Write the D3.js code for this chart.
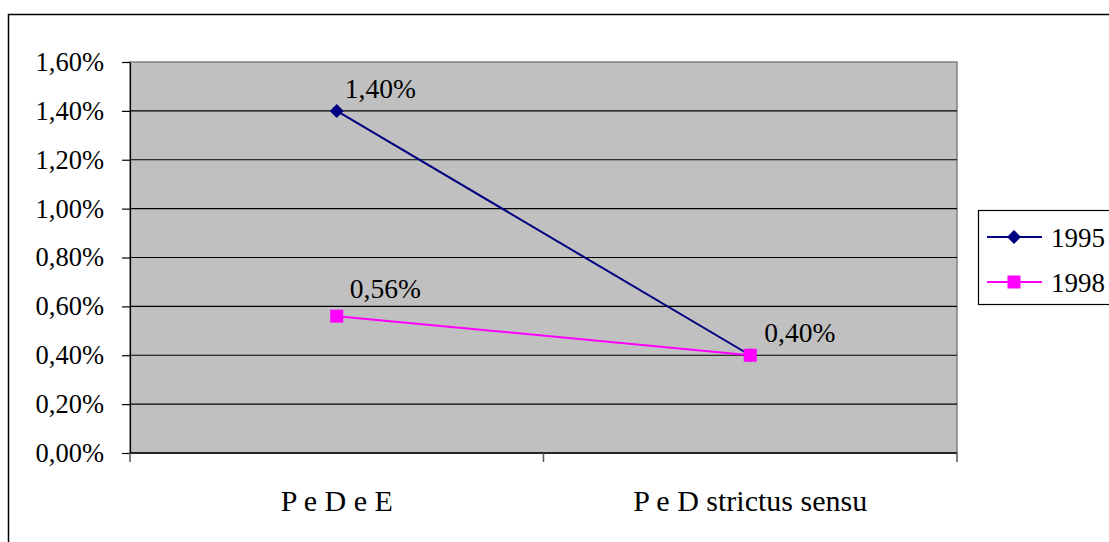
<!DOCTYPE html>
<html>
<head>
<meta charset="utf-8">
<script src="https://cdn.jsdelivr.net/npm/d3@7"></script>
<style>
  body { margin: 0; background: #fff; }
  svg { display: block; font-family: "Liberation Serif", "Times New Roman", serif; }
</style>
</head>
<body>
<div id="chart"></div>
<script>
const categories = ["P e D e E", "P e D strictus sensu"];
const seriesNames = ["1995", "1998"];
const values1995 = [0.014, 0.004];
const values1998 = [0.0056, 0.004];
const yTicks = [0, 0.002, 0.004, 0.006, 0.008, 0.010, 0.012, 0.014, 0.016];

const W = 1109, H = 542;
const plot = { left: 130, right: 957, top: 62, bottom: 453 };
const fontSize = "27px";

const svg = d3.select("#chart").append("svg").attr("width", W).attr("height", H);

// outer chart border (clipped at right/bottom like the source)
svg.append("rect")
  .attr("x", 8.5).attr("y", 14.5)
  .attr("width", 1200).attr("height", 600)
  .attr("fill", "#fff").attr("stroke", "#000").attr("stroke-width", 1.5);

const fmt = v => (v * 100).toFixed(2).replace(".", ",") + "%";

const x = d3.scaleBand().domain(categories).range([plot.left, plot.right]);
const y = d3.scaleLinear().domain([0, 0.016]).range([plot.bottom, plot.top]);
const cx = c => x(c) + x.bandwidth() / 2;

// plot area
svg.append("rect")
  .attr("x", plot.left).attr("y", plot.top)
  .attr("width", plot.right - plot.left).attr("height", plot.bottom - plot.top)
  .attr("fill", "#c0c0c0").attr("stroke", "#808080").attr("stroke-width", 1.5);

// gridlines
svg.append("g").selectAll("line")
  .data(yTicks.filter(t => t > 0 && t < 0.016))
  .join("line")
  .attr("x1", plot.left).attr("x2", plot.right)
  .attr("y1", d => y(d)).attr("y2", d => y(d))
  .attr("stroke", "#000").attr("stroke-width", 1.2);

// Y-Axis
svg.append("g")
  .attr("transform", `translate(${plot.left},0)`)
  .call(d3.axisLeft(y).tickValues(yTicks).tickFormat(fmt).tickSize(8).tickSizeOuter(0).tickPadding(18))
  .call(g => g.select(".domain").attr("stroke", "#000").attr("stroke-width", 1.2))
  .call(g => g.selectAll(".tick line").attr("stroke", "#000").attr("stroke-width", 1.2))
  .call(g => g.selectAll("text").attr("fill", "#000").style("font-size", "26.5px")
    .style("font-family", "Liberation Serif, Times New Roman, serif"));

// X-Axis
const xAxis = svg.append("g").attr("transform", `translate(0,${plot.bottom})`);
xAxis.append("line")
  .attr("x1", plot.left).attr("x2", plot.right)
  .attr("stroke", "#000").attr("stroke-width", 1.5);
xAxis.selectAll("line.tk")
  .data([...categories.map(c => x(c)), plot.right])
  .join("line").attr("class", "tk")
  .attr("x1", d => d).attr("x2", d => d)
  .attr("y1", 0).attr("y2", 9)
  .attr("stroke", "#555").attr("stroke-width", 1.5);
xAxis.selectAll("text")
  .data(categories)
  .join("text")
  .attr("x", d => cx(d)).attr("y", 58)
  .attr("text-anchor", "middle")
  .style("font-size", "30px")
  .text(d => d);

const line = d3.line().x((d, i) => cx(categories[i])).y(d => y(d));

// series lines
svg.append("path").datum(values1998)
  .attr("fill", "none").attr("stroke", "#ff00ff").attr("stroke-width", 2).attr("d", line);
svg.append("path").datum(values1995)
  .attr("fill", "none").attr("stroke", "#000080").attr("stroke-width", 2).attr("d", line);

// markers
svg.append("g").selectAll("path")
  .data(values1995)
  .join("path")
  .attr("transform", (d, i) => `translate(${cx(categories[i])},${y(d)})`)
  .attr("d", "M0,-7L7,0L0,7L-7,0Z")
  .attr("fill", "#000080");
svg.append("g").selectAll("rect")
  .data(values1998)
  .join("rect")
  .attr("x", (d, i) => cx(categories[i]) - 6.5).attr("y", d => y(d) - 6.5)
  .attr("width", 13).attr("height", 13)
  .attr("fill", "#ff00ff");

// data labels
const labels = [
  { cat: 0, v: values1995[0], dx: 8, dy: -13 },
  { cat: 0, v: values1998[0], dx: 13, dy: -18 },
  { cat: 1, v: values1995[1], dx: 14, dy: -13 }
];
svg.append("g").selectAll("text")
  .data(labels)
  .join("text")
  .attr("x", d => cx(categories[d.cat]) + d.dx)
  .attr("y", d => y(d.v) + d.dy)
  .style("font-size", "27.5px")
  .text(d => fmt(d.v));

// legend
const lg = svg.append("g");
lg.append("rect")
  .attr("x", 978.5).attr("y", 210.5).attr("width", 160).attr("height", 94)
  .attr("fill", "#fff").attr("stroke", "#000").attr("stroke-width", 1.2);
const legendColors = ["#000080", "#ff00ff"];
seriesNames.forEach((name, i) => {
  const ly = 237 + i * 45;
  lg.append("line").attr("x1", 987).attr("x2", 1042).attr("y1", ly).attr("y2", ly)
    .attr("stroke", legendColors[i]).attr("stroke-width", 2);
  if (i === 0) {
    lg.append("path").attr("transform", `translate(1014,${ly})`)
      .attr("d", "M0,-7L7,0L0,7L-7,0Z").attr("fill", legendColors[i]);
  } else {
    lg.append("rect").attr("x", 1007.5).attr("y", ly - 6.5).attr("width", 13).attr("height", 13)
      .attr("fill", legendColors[i]);
  }
  lg.append("text").attr("x", 1051).attr("y", ly + 10)
    .style("font-size", fontSize).text(name);
});
</script>
</body>
</html>
